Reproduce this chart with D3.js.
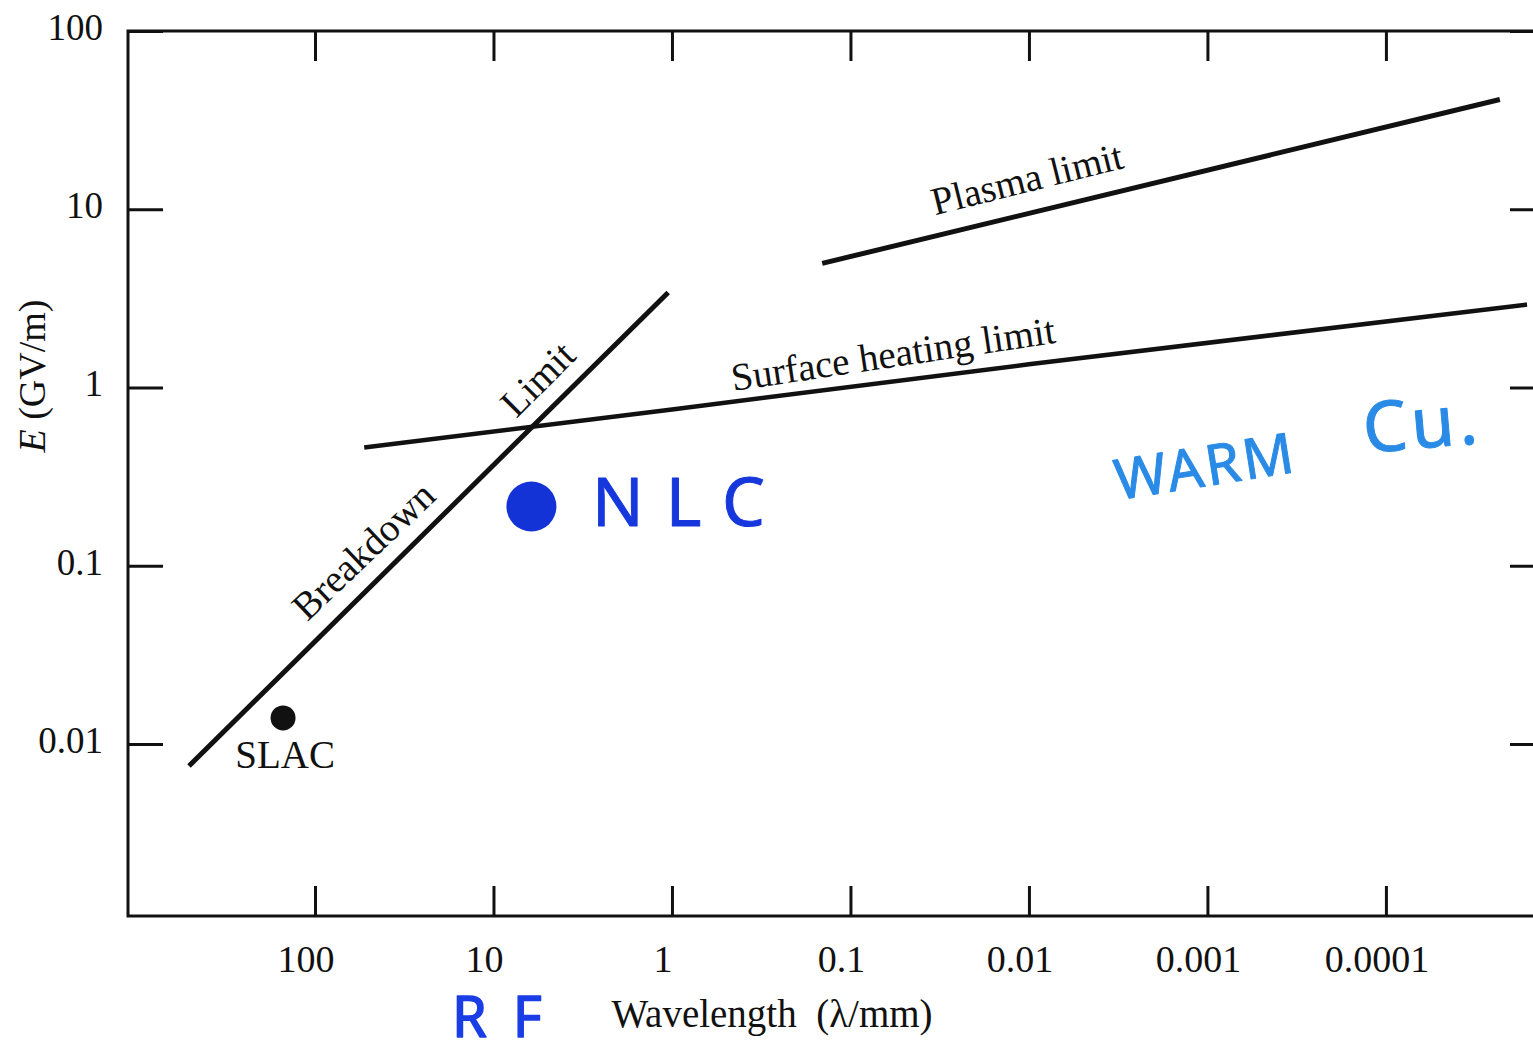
<!DOCTYPE html>
<html>
<head>
<meta charset="utf-8">
<script src="https://cdn.jsdelivr.net/npm/d3@7"></script>
<style>
  html, body { margin: 0; padding: 0; background: #ffffff; }
  svg { display: block; }
  text { font-family: "Liberation Serif", "Times New Roman", serif; fill: #111; }
  .hand { font-family: "Noto Sans", "DejaVu Sans", sans-serif; stroke-linejoin: round; stroke-linecap: round; }
</style>
</head>
<body>
<svg id="chart" width="1533" height="1054"></svg>
<script>
// ---------- data ----------
const xTickValues = [100, 10, 1, 0.1, 0.01, 0.001, 0.0001];
const xTickLabels = ["100", "10", "1", "0.1", "0.01", "0.001", "0.0001"];
const yTickValues = [100, 10, 1, 0.1, 0.01];
const yTickLabels = ["100", "10", "1", "0.1", "0.01"];

// wavelength (mm) and field E (GV/m)
const breakdownWavelength = [508, 1.05];
const breakdownField = [0.00753, 3.41];

const surfaceWavelength = [53, 1, 0.01, 0.0000162];
const surfaceField = [0.461, 0.753, 1.35, 2.92];

const plasmaWavelength = [0.144, 0.000023];
const plasmaField = [4.97, 41.3];

const pointNames = ["SLAC", "NLC"];
const pointWavelength = [151, 6.13];
const pointField = [0.014, 0.215];

const lineLabels = ["Breakdown", "Limit", "Surface heating limit", "Plasma limit", "SLAC"];
const lineLabelWavelength = [53.8, 5.67, 0.0578, 0.01026, 147];
const lineLabelField = [0.1218, 1.12, 1.55, 14.9, 0.00868];
const lineLabelAngle = [-43.5, -45, -8.5, -14, 0];

// ---------- layout ----------
const svg = d3.select("#chart");
const mLeft = 128, mRight = 1540, mTop = 31, mBottom = 916;

const x = d3.scaleLog().domain([1116, 0.0000137]).range([mLeft, mRight]);
const y = d3.scaleLog().domain([0.001084, 100]).range([mBottom, mTop]);

const ink = "#111";

// frame
svg.append("rect")
  .attr("x", mLeft).attr("y", mTop)
  .attr("width", mRight - mLeft).attr("height", mBottom - mTop)
  .attr("fill", "none").attr("stroke", ink).attr("stroke-width", 3);

// axes with inward ticks
const tickLen = 30;
const gB = svg.append("g").attr("transform", `translate(0,${mBottom})`)
  .call(d3.axisBottom(x).tickValues(xTickValues).tickSize(-tickLen).tickFormat(""));
const gT = svg.append("g").attr("transform", `translate(0,${mTop})`)
  .call(d3.axisTop(x).tickValues(xTickValues).tickSize(-tickLen).tickFormat(""));
const gL = svg.append("g").attr("transform", `translate(${mLeft},0)`)
  .call(d3.axisLeft(y).tickValues(yTickValues).tickSize(-tickLen - 5).tickFormat(""));
const gR = svg.append("g").attr("transform", `translate(${mRight},0)`)
  .call(d3.axisRight(y).tickValues(yTickValues).tickSize(-tickLen).tickFormat(""));
[gB, gT, gL, gR].forEach(g => {
  g.select(".domain").remove();
  g.selectAll(".tick line").attr("stroke", ink).attr("stroke-width", 3);
});

// tick labels
svg.append("g").selectAll("text").data(xTickValues).join("text")
  .attr("x", d => x(d) - 9)
  .attr("y", 972)
  .attr("text-anchor", "middle")
  .attr("font-size", 38)
  .text((d, i) => xTickLabels[i]);

svg.append("g").selectAll("text").data(yTickValues).join("text")
  .attr("x", 103)
  .attr("y", d => y(d) + 9)
  .attr("text-anchor", "end")
  .attr("font-size", 37)
  .text((d, i) => yTickLabels[i]);

// axis titles
svg.append("text")
  .attr("x", 772).attr("y", 1027)
  .attr("text-anchor", "middle")
  .attr("font-size", 39)
  .attr("xml:space", "preserve")
  .style("white-space", "pre")
  .text("Wavelength  (λ/mm)");

const yt = svg.append("text")
  .attr("transform", "translate(45,376) rotate(-90)")
  .attr("text-anchor", "middle")
  .attr("font-size", 38);
yt.append("tspan").attr("font-style", "italic").text("E");
yt.append("tspan").text(" (GV/m)");

// lines
const lineGen = d3.line().x(d => x(d[0])).y(d => y(d[1]));
const series = [
  { w: breakdownWavelength, e: breakdownField, sw: 5 },
  { w: surfaceWavelength, e: surfaceField, sw: 4.5 },
  { w: plasmaWavelength, e: plasmaField, sw: 5 }
];
svg.append("g").selectAll("path").data(series).join("path")
  .attr("d", s => lineGen(s.w.map((w, i) => [w, s.e[i]])))
  .attr("fill", "none")
  .attr("stroke", ink)
  .attr("stroke-width", s => s.sw);

// line labels
svg.append("g").selectAll("text").data(lineLabels).join("text")
  .attr("transform", (d, i) => `translate(${x(lineLabelWavelength[i])},${y(lineLabelField[i])}) rotate(${lineLabelAngle[i]})`)
  .attr("text-anchor", "middle")
  .attr("dominant-baseline", "central")
  .attr("font-size", 39)
  .text(d => d);

// points
svg.append("circle")
  .attr("cx", x(pointWavelength[0])).attr("cy", y(pointField[0]))
  .attr("r", 12.5).attr("fill", ink);
svg.append("circle")
  .attr("cx", x(pointWavelength[1])).attr("cy", y(pointField[1]))
  .attr("r", 25).attr("fill", "#1433d6");

// handwritten annotations
svg.append("text").attr("class", "hand")
  .attr("x", 592).attr("y", 526)
  .attr("font-size", 68).attr("letter-spacing", 22)
  .style("fill", "#1637dc").attr("stroke", "#1637dc").attr("stroke-width", 1)
  .text("NLC");

svg.append("text").attr("class", "hand")
  .attr("transform", "translate(1118,500) rotate(-9)")
  .attr("font-size", 56).attr("letter-spacing", 3)
  .style("fill", "#2a8be6").attr("stroke", "#2a8be6").attr("stroke-width", 1)
  .text("WARM");

svg.append("text").attr("class", "hand")
  .attr("transform", "translate(1365,453) rotate(-5)")
  .attr("font-size", 70).attr("letter-spacing", 4)
  .style("fill", "#2a8be6").attr("stroke", "#2a8be6").attr("stroke-width", 1)
  .text("Cu.");

svg.append("text").attr("class", "hand")
  .attr("x", 452).attr("y", 1037)
  .attr("font-size", 56).attr("letter-spacing", 26)
  .style("fill", "#1a3ee6").attr("stroke", "#1a3ee6").attr("stroke-width", 1.5)
  .text("RF");
</script>
</body>
</html>
